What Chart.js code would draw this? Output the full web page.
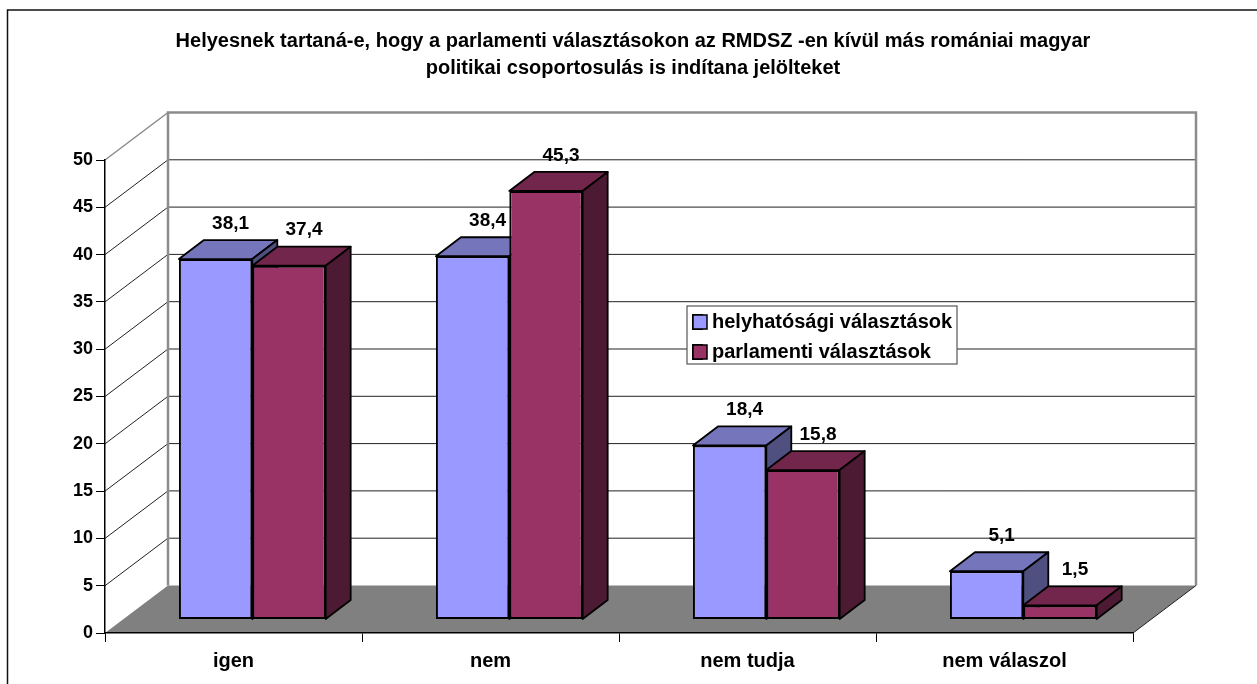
<!DOCTYPE html>
<html><head><meta charset="utf-8">
<style>html,body{margin:0;padding:0;background:#fff}canvas{display:block}</style>
<script src="https://cdn.jsdelivr.net/npm/chart.js@4"></script>
</head><body><canvas id="c" width="1257" height="684"></canvas>
<script>
const titleLines = ["Helyesnek tartaná-e, hogy a parlamenti választásokon az RMDSZ -en kívül más romániai magyar","politikai csoportosulás is indítana jelölteket"];
const categories = ["igen","nem","nem tudja","nem válaszol"];
const localValues = [38.1,38.4,18.4,5.1];
const parliamentValues = [37.4,45.3,15.8,1.5];
const seriesNames = ["helyhatósági választások","parlamenti választások"];

const FAMILY = '"Liberation Sans", Arial, sans-serif';
const FONT = 'bold 19px ' + FAMILY;
const DX = 63, DY = 47.5, BAR_DX = 18.8, BAR_DY = 13.5, D3X = 25, D3Y = 19;
const faces = [{top:'#7575BC',side:'#4F5080'},{top:'#72264B',side:'#4D1A33'}];
const legendBox = {x:687,y:306,w:270,h:58};
const swatch = {x:693,y:315,size:14,step:30};

const scene = {
  id:'scene',
  afterLayout(chart){
    const l = chart.legend;
    l.left = swatch.x - 10; l.top = legendBox.y - 4;
    l.right = legendBox.x + legendBox.w; l.bottom = legendBox.y + legendBox.h + 40;
    l.width = l.right - l.left; l.height = l.bottom - l.top;
  },
  beforeDraw(chart){
    const c = chart.ctx, ys = chart.scales.y, xs = chart.scales.x;
    const L = xs.left, R = xs.right, B = ys.bottom;
    c.save();
    c.fillStyle='#fff'; c.fillRect(0,0,chart.width,chart.height);
    c.strokeStyle='#111'; c.lineWidth=1.5;
    c.beginPath(); c.moveTo(7.5,684); c.lineTo(7.5,10); c.lineTo(1257,10); c.stroke();
    c.fillStyle='#808080';
    c.beginPath(); c.moveTo(L,B); c.lineTo(R,B); c.lineTo(R+DX,B-DY); c.lineTo(L+DX,B-DY); c.closePath(); c.fill();
    ys.ticks.forEach(t=>{
      const y = ys.getPixelForValue(t.value);
      if (t.value===0) return;
      const top = t.value===ys.max;
      c.strokeStyle = top ? '#8a8a8a' : '#222'; c.lineWidth = top ? 1.5 : 1;
      c.beginPath(); c.moveTo(L,y); c.lineTo(L+DX,y-DY);
      if(!top) c.lineTo(R+DX,y-DY);
      c.stroke();
    });
    const T = ys.top;
    c.strokeStyle='#8c8c8c'; c.lineWidth=2.5;
    c.beginPath(); c.moveTo(L+DX,B-DY); c.lineTo(L+DX,T-DY); c.lineTo(R+DX,T-DY); c.lineTo(R+DX,B-DY); c.stroke();
    c.strokeStyle='#222'; c.lineWidth=1;
    c.beginPath(); c.moveTo(R,B); c.lineTo(R+DX,B-DY); c.stroke();
    c.fillStyle='#fff'; c.strokeStyle='#555'; c.lineWidth=1.2;
    c.fillRect(legendBox.x,legendBox.y,legendBox.w,legendBox.h);
    c.strokeRect(legendBox.x,legendBox.y,legendBox.w,legendBox.h);
    c.restore();
  },
  beforeDatasetsDraw(chart){
    const c = chart.ctx;
    c.save();
    c.lineWidth=1.8; c.strokeStyle='#000'; c.lineJoin='round';
    [0,1].forEach(di=>{
      chart.getDatasetMeta(di).data.forEach(b=>{
        const x0=b.x-b.width/2+BAR_DX, x1=b.x+b.width/2+BAR_DX, y0=b.y-BAR_DY, y1=b.base-BAR_DY;
        c.fillStyle=faces[di].top;
        c.beginPath(); c.moveTo(x0,y0); c.lineTo(x0+D3X,y0-D3Y); c.lineTo(x1+D3X,y0-D3Y); c.lineTo(x1,y0); c.closePath(); c.fill(); c.stroke();
        c.fillStyle=faces[di].side;
        c.beginPath(); c.moveTo(x1,y0); c.lineTo(x1+D3X,y0-D3Y); c.lineTo(x1+D3X,y1-D3Y); c.lineTo(x1,y1); c.closePath(); c.fill(); c.stroke();
      });
    });
    c.restore();
  },
  beforeDatasetDraw(chart){ chart.ctx.save(); chart.ctx.translate(BAR_DX,-BAR_DY); },
  afterDatasetDraw(chart){ chart.ctx.restore(); },
  afterDatasetsDraw(chart){
    const c = chart.ctx;
    c.save();
    c.font=FONT; c.textAlign='center'; c.textBaseline='middle';
    [0,1].forEach(di=>{
      const ds = chart.data.datasets[di];
      c.fillStyle='#000';
      chart.getDatasetMeta(di).data.forEach((b,i)=>{
        c.fillText(ds.data[i].toFixed(1).replace('.',','), b.x+BAR_DX+15, b.y-BAR_DY-D3Y-16.5);
      });
      // legend swatch, square as in the reference
      c.fillStyle=ds.backgroundColor; c.strokeStyle='#000'; c.lineWidth=1.5;
      const sy = swatch.y + di*swatch.step;
      c.fillRect(swatch.x,sy,swatch.size,swatch.size);
      c.strokeRect(swatch.x,sy,swatch.size,swatch.size);
    });
    c.restore();
  }
};

new Chart(document.getElementById('c'),{
  type:'bar',
  data:{labels:categories,datasets:[
    {label:seriesNames[0],data:localValues,backgroundColor:'#9999FF',borderColor:'#000',borderWidth:2,borderSkipped:false,clip:false},
    {label:seriesNames[1],data:parliamentValues,backgroundColor:'#993366',borderColor:'#000',borderWidth:2,borderSkipped:false,clip:false}
  ]},
  plugins:[scene],
  options:{
    responsive:false,animation:false,devicePixelRatio:1,
    layout:{padding:{left:9,right:0,top:0,bottom:0}},
    datasets:{bar:{barPercentage:1,categoryPercentage:0.571}},
    plugins:{
      tooltip:{enabled:false},
      title:{display:true,text:titleLines,color:'#000',
        font:{family:FAMILY,size:20,weight:'bold',lineHeight:'27px'},
        padding:{top:28,bottom:78}},
      legend:{position:'chartArea',align:'start',
        labels:{boxWidth:9,boxHeight:14,padding:10,color:'#000',
          font:{family:FAMILY,size:20,weight:'bold'}}}
    },
    scales:{
      x:{type:'category',offset:true,
        afterFit(s){s.height=51;},
        grid:{display:true,offset:true,drawOnChartArea:false,drawTicks:true,tickLength:9,color:'#000',lineWidth:1},
        border:{display:true,color:'#000',width:1.5},
        ticks:{color:'#000',padding:7,maxRotation:0,font:{family:FAMILY,size:20,weight:'bold'}}},
      y:{type:'linear',min:0,max:50,position:'left',
        afterFit(s){s.width=96;},
        grid:{display:true,drawOnChartArea:false,drawTicks:true,tickLength:9,color:'#000',lineWidth:1},
        border:{display:true,color:'#000',width:1.5},
        ticks:{stepSize:5,color:'#000',padding:3,font:{family:FAMILY,size:18,weight:'bold'}}},
      yr:{type:'linear',position:'right',min:0,max:50,display:true,
        afterFit(s){s.width=124;},
        grid:{display:false},border:{display:false},ticks:{display:false}}
    }
  }
});
</script></body></html>
